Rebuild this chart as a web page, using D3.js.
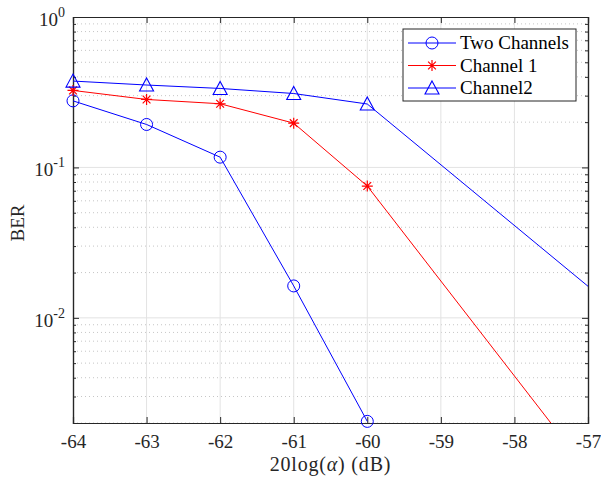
<!DOCTYPE html>
<html>
<head>
<meta charset="utf-8">
<script src="https://cdn.jsdelivr.net/npm/d3@7"></script>
<style>
  body { margin: 0; background: #fff; }
  svg text { font-family: "Liberation Serif", "DejaVu Serif", "Times New Roman", serif !important; }
</style>
</head>
<body>
<svg id="chart" width="601" height="477"></svg>
<script>
// data
const xTicks = [-64, -63, -62, -61, -60, -59, -58, -57];
const yDecades = [-3, -2, -1, 0];

const twoX = [-64, -63, -62, -61, -60];
const twoY = [0.277, 0.193, 0.117, 0.0163, 0.00205];

const ch1X = [-64, -63, -62, -61, -60, -57];
const ch1Y = [0.325, 0.283, 0.265, 0.197, 0.0752, 0.00096];

const ch2X = [-64, -63, -62, -61, -60, -56];
const ch2Y = [0.375, 0.353, 0.335, 0.31, 0.264, 0.0064];

const seriesNames = ["Two Channels", "Channel 1", "Channel2"];

const FONT = "Liberation Serif";
const FS = 19;
const margin = { left: 73, top: 17, right: 13, bottom: 54 };
const W = 601, H = 477;
const iw = W - margin.left - margin.right;
const ih = H - margin.top - margin.bottom;

const svg = d3.select("#chart");
const x = d3.scaleLinear().domain([-64, -57]).range([0, iw]);
const y = d3.scaleLog().domain([0.002, 1]).range([ih, 0]);

const g = svg.append("g").attr("transform", `translate(${margin.left},${margin.top})`);

svg.append("defs").append("clipPath").attr("id", "clip")
  .append("rect").attr("width", iw).attr("height", ih);

// minor grid (dotted)
const minors = [];
yDecades.forEach(d => {
  for (let k = 2; k <= 9; k++) {
    const v = k * Math.pow(10, d);
    if (v >= 0.002 && v <= 1) minors.push(v);
  }
});
g.selectAll(".minor").data(minors).join("line")
  .attr("x1", 0).attr("x2", iw)
  .attr("y1", d => y(d)).attr("y2", d => y(d))
  .attr("stroke", "#b8b8b8").attr("stroke-width", 0.8)
  .attr("stroke-dasharray", "1,3");

// major grid
const majors = [0.01, 0.1];
g.selectAll(".majy").data(majors).join("line")
  .attr("x1", 0).attr("x2", iw)
  .attr("y1", d => y(d)).attr("y2", d => y(d))
  .attr("stroke", "#e3e3e3").attr("stroke-width", 1);
g.selectAll(".majx").data(xTicks.slice(1, -1)).join("line")
  .attr("x1", d => x(d)).attr("x2", d => x(d))
  .attr("y1", 0).attr("y2", ih)
  .attr("stroke", "#e3e3e3").attr("stroke-width", 1);

// axes with inward ticks
const axBottom = g.append("g").attr("transform", `translate(0,${ih})`)
  .call(d3.axisBottom(x).tickValues(xTicks).tickSize(-6).tickPadding(12).tickFormat(d => String(d)));
g.append("g")
  .call(d3.axisTop(x).tickValues(xTicks).tickSize(-6).tickFormat(""));
g.append("g")
  .call(d3.axisLeft(y).tickValues([0.01, 0.1, 1]).tickSize(-6).tickFormat(""));
g.append("g").attr("transform", `translate(${iw},0)`)
  .call(d3.axisRight(y).tickValues([0.01, 0.1, 1]).tickSize(-6).tickFormat(""));
// minor ticks
g.append("g").call(d3.axisLeft(y).tickValues(minors).tickSize(-3).tickFormat(""));
g.append("g").attr("transform", `translate(${iw},0)`)
  .call(d3.axisRight(y).tickValues(minors).tickSize(-3).tickFormat(""));

g.selectAll(".domain").attr("stroke", "#262626").attr("stroke-width", 1.2);
g.selectAll(".tick line").attr("stroke", "#262626");
axBottom.selectAll("text").attr("font-size", FS).attr("font-family", FONT).attr("fill", "#262626");

// y tick labels 10^n
const yLab = g.selectAll(".ylab").data([0, -1, -2]).join("text")
  .attr("x", -8).attr("y", d => y(Math.pow(10, d)) + 9)
  .attr("text-anchor", "end").attr("font-size", FS)
  .attr("font-family", FONT).attr("fill", "#262626");
yLab.append("tspan").text("10");
yLab.append("tspan").attr("dy", -9).attr("font-size", 14).text(d => d);

// lines
const line = d3.line().x(d => x(d[0])).y(d => y(d[1]));
const plot = g.append("g").attr("clip-path", "url(#clip)");
const series = [
  { name: seriesNames[0], xs: twoX, ys: twoY, color: "#0000ff", marker: "circle" },
  { name: seriesNames[1], xs: ch1X, ys: ch1Y, color: "#ff0000", marker: "star" },
  { name: seriesNames[2], xs: ch2X, ys: ch2Y, color: "#0000ff", marker: "triangle" }
];

function drawMarker(sel, type, color) {
  if (type === "circle") {
    sel.append("circle").attr("r", 6).attr("fill", "none").attr("stroke", color).attr("stroke-width", 1);
  } else if (type === "triangle") {
    sel.append("path").attr("d", "M0,-7L7,6L-7,6Z").attr("fill", "none").attr("stroke", color).attr("stroke-width", 1.1);
  } else {
    const r = 5.5;
    let p = "";
    [0, 45, 90, 135].forEach(a => {
      const t = a * Math.PI / 180;
      p += `M${-r * Math.cos(t)},${-r * Math.sin(t)}L${r * Math.cos(t)},${r * Math.sin(t)}`;
    });
    sel.append("path").attr("d", p).attr("stroke", color).attr("stroke-width", 1.2).attr("fill", "none");
  }
}

series.forEach(s => {
  const pts = s.xs.map((v, i) => [v, s.ys[i]]);
  plot.append("path").datum(pts).attr("d", line)
    .attr("fill", "none").attr("stroke", s.color).attr("stroke-width", 1);
  const inside = pts.filter(p => p[0] <= -57 && p[1] >= 0.002 * 0.99);
  inside.forEach(p => {
    const m = g.append("g").attr("transform", `translate(${x(p[0])},${y(p[1])})`);
    drawMarker(m, s.marker, s.color);
  });
});

// legend
const lg = svg.append("g").attr("transform", "translate(403,29)");
lg.append("rect").attr("width", 173).attr("height", 72)
  .attr("fill", "#fff").attr("stroke", "#262626").attr("stroke-width", 1);
series.forEach((s, i) => {
  const yy = 14 + i * 22.5;
  lg.append("line").attr("x1", 5).attr("x2", 53).attr("y1", yy).attr("y2", yy)
    .attr("stroke", s.color).attr("stroke-width", 1);
  const m = lg.append("g").attr("transform", `translate(29,${yy})`);
  drawMarker(m, s.marker, s.color);
  lg.append("text").attr("x", 57).attr("y", yy + 6).attr("font-size", FS)
    .attr("font-family", FONT).attr("fill", "#000").text(s.name);
});

// axis labels
const xl = svg.append("text").attr("x", margin.left + iw / 2).attr("y", 471)
  .attr("text-anchor", "middle").attr("font-size", 20).attr("letter-spacing", 0.8)
  .attr("font-family", FONT).attr("fill", "#262626");
xl.append("tspan").text("20log(");
xl.append("tspan").attr("font-style", "italic").text("α");
xl.append("tspan").text(") (dB)");

svg.append("text").attr("transform", `translate(24,${margin.top + ih / 2 + 3}) rotate(-90)`)
  .attr("text-anchor", "middle").attr("font-size", FS)
  .attr("font-family", FONT).attr("fill", "#262626").text("BER");
</script>
</body>
</html>
